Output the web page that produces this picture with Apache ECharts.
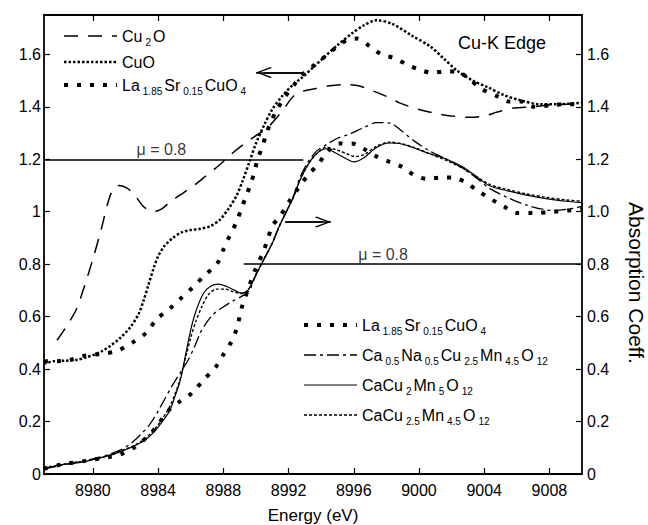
<!DOCTYPE html>
<html>
<head>
<meta charset="utf-8">
<script src="https://cdn.jsdelivr.net/npm/echarts@6/dist/echarts.min.js"></script>
<style>
  html, body { margin: 0; padding: 0; background: #fff; }
  #chart { width: 648px; height: 525px; }
</style>
</head>
<body>
<div id="chart"></div>
<script>
// tick values
const xTicks = [8980, 8984, 8988, 8992, 8996, 9000, 9004, 9008];
const yTicks = [0, 0.2, 0.4, 0.6, 0.8, 1, 1.2, 1.4, 1.6];

// upper curves (left axis) : [energy, mu]
const cu2o = [[8977.8, 0.51], [8978.4, 0.565], [8979.0, 0.63], [8979.5, 0.72], [8980.0, 0.82], [8980.5, 0.93], [8980.9, 1.03], [8981.2, 1.08], [8981.6, 1.10], [8982.1, 1.09], [8982.6, 1.06], [8983.1, 1.02], [8983.7, 1.00], [8984.2, 1.01], [8984.8, 1.04], [8985.5, 1.07], [8986.2, 1.10], [8987.0, 1.14], [8987.8, 1.18], [8988.5, 1.22], [8989.3, 1.26], [8990.0, 1.29], [8990.7, 1.32], [8991.3, 1.36], [8991.8, 1.40], [8992.3, 1.44], [8992.9, 1.46], [8993.7, 1.47], [8994.5, 1.48], [8995.5, 1.485], [8996.3, 1.48], [8997.2, 1.46], [8998.0, 1.44], [8998.8, 1.415], [9000.0, 1.39], [9001.0, 1.375], [9002.0, 1.365], [9003.1, 1.36], [9004.0, 1.365], [9004.8, 1.38], [9005.8, 1.395], [9007.0, 1.40], [9008.5, 1.41], [9010.0, 1.41]];
const cuo = [[8977.0, 0.42], [8977.6, 0.43], [8978.3, 0.432], [8979.0, 0.435], [8979.6, 0.445], [8980.1, 0.455], [8980.6, 0.47], [8981.1, 0.49], [8981.7, 0.52], [8982.3, 0.56], [8982.8, 0.61], [8983.1, 0.66], [8983.4, 0.72], [8983.7, 0.78], [8984.0, 0.83], [8984.4, 0.87], [8984.9, 0.90], [8985.4, 0.92], [8986.0, 0.93], [8986.6, 0.935], [8987.2, 0.945], [8987.8, 0.97], [8988.3, 1.01], [8988.8, 1.06], [8989.2, 1.12], [8989.6, 1.19], [8990.0, 1.26], [8990.5, 1.33], [8991.0, 1.39], [8991.6, 1.44], [8992.2, 1.48], [8992.8, 1.51], [8993.5, 1.55], [8994.2, 1.59], [8995.0, 1.635], [8995.9, 1.68], [8996.6, 1.71], [8997.4, 1.73], [8998.4, 1.715], [8999.6, 1.67], [9000.7, 1.63], [9001.5, 1.585], [9002.3, 1.54], [9003.3, 1.50], [9004.2, 1.475], [9005.2, 1.445], [9006.2, 1.425], [9007.4, 1.41], [9008.5, 1.41], [9010.0, 1.415]];
const lsco = [[8977.0, 0.43], [8977.8, 0.43], [8978.6, 0.435], [8979.4, 0.45], [8980.1, 0.455], [8980.8, 0.46], [8981.5, 0.47], [8982.4, 0.50], [8983.3, 0.54], [8983.9, 0.59], [8984.7, 0.63], [8985.4, 0.67], [8986.1, 0.71], [8986.9, 0.76], [8987.6, 0.80], [8988.0, 0.855], [8988.4, 0.91], [8988.8, 0.96], [8989.1, 1.01], [8989.4, 1.06], [8989.7, 1.11], [8989.9, 1.15], [8990.1, 1.20], [8990.4, 1.25], [8990.6, 1.29], [8990.9, 1.34], [8991.3, 1.39], [8991.8, 1.44], [8992.3, 1.48], [8992.8, 1.52], [8993.5, 1.555], [8994.2, 1.59], [8994.9, 1.625], [8995.6, 1.655], [8996.2, 1.66], [8997.0, 1.63], [8997.7, 1.60], [8998.5, 1.585], [8999.3, 1.56], [9000.1, 1.54], [9000.8, 1.53], [9001.6, 1.535], [9002.3, 1.535], [9003.0, 1.51], [9003.8, 1.47], [9004.8, 1.44], [9005.5, 1.42], [9006.3, 1.42], [9007.0, 1.40], [9008.0, 1.405], [9009.0, 1.41], [9010.0, 1.41]];

// lower curves (right axis)
const lscoB = [[8977.0, 0.02], [8978.0, 0.035], [8979.5, 0.05], [8981.0, 0.065], [8981.7, 0.075], [8982.5, 0.10], [8983.3, 0.14], [8983.9, 0.18], [8984.6, 0.24], [8985.3, 0.275], [8986.1, 0.31], [8986.8, 0.36], [8987.5, 0.405], [8988.0, 0.455], [8988.5, 0.505], [8988.8, 0.55], [8989.0, 0.60], [8989.2, 0.65], [8989.5, 0.70], [8989.9, 0.77], [8990.4, 0.84], [8990.7, 0.89], [8991.0, 0.945], [8991.5, 0.985], [8992.0, 1.035], [8992.6, 1.09], [8993.2, 1.14], [8993.8, 1.18], [8994.4, 1.23], [8995.1, 1.26], [8995.9, 1.26], [8996.6, 1.24], [8997.4, 1.21], [8998.2, 1.19], [8999.0, 1.17], [8999.7, 1.14], [9000.5, 1.125], [9001.3, 1.13], [9002.1, 1.13], [9002.9, 1.11], [9003.6, 1.08], [9004.5, 1.045], [9005.2, 1.02], [9006.0, 0.995], [9007.0, 0.995], [9008.3, 1.00], [9010.0, 1.01]];
const caNa = [[8977.0, 0.02], [8978.0, 0.032], [8979.0, 0.045], [8980.0, 0.058], [8981.0, 0.075], [8981.8, 0.095], [8982.4, 0.12], [8983.0, 0.155], [8983.5, 0.19], [8984.0, 0.24], [8984.4, 0.285], [8984.8, 0.33], [8985.3, 0.38], [8985.8, 0.43], [8986.2, 0.48], [8986.6, 0.54], [8987.0, 0.58], [8987.4, 0.61], [8988.0, 0.637], [8988.6, 0.66], [8989.2, 0.68], [8989.6, 0.70], [8990.0, 0.76], [8990.5, 0.82], [8991.0, 0.88], [8991.4, 0.94], [8991.9, 1.005], [8992.3, 1.06], [8992.7, 1.13], [8993.2, 1.19], [8993.7, 1.23], [8994.3, 1.255], [8995.0, 1.28], [8995.7, 1.295], [8996.6, 1.32], [8997.4, 1.34], [8998.2, 1.338], [8998.9, 1.31], [8999.7, 1.27], [9000.7, 1.23], [9001.7, 1.20], [9002.7, 1.165], [9003.5, 1.13], [9004.3, 1.09], [9005.4, 1.055], [9006.6, 1.025], [9008.2, 1.005], [9009.2, 1.01], [9010.0, 1.02]];
const mn5 = [[8977.0, 0.02], [8978.0, 0.035], [8979.0, 0.042], [8980.0, 0.055], [8981.1, 0.072], [8981.8, 0.088], [8982.3, 0.10], [8982.8, 0.115], [8983.2, 0.13], [8983.7, 0.157], [8984.2, 0.195], [8984.7, 0.24], [8985.0, 0.29], [8985.3, 0.345], [8985.5, 0.395], [8985.7, 0.46], [8985.9, 0.52], [8986.1, 0.575], [8986.4, 0.635], [8986.8, 0.69], [8987.2, 0.715], [8987.7, 0.724], [8988.2, 0.715], [8988.7, 0.70], [8989.1, 0.69], [8989.5, 0.70], [8990.0, 0.76], [8990.5, 0.82], [8991.0, 0.88], [8991.4, 0.94], [8991.9, 1.005], [8992.3, 1.055], [8992.7, 1.12], [8993.2, 1.18], [8993.7, 1.22], [8994.3, 1.24], [8995.0, 1.22], [8995.6, 1.20], [8996.0, 1.19], [8996.6, 1.205], [8997.4, 1.245], [8998.2, 1.262], [8998.8, 1.26], [8999.6, 1.245], [9000.7, 1.22], [9001.7, 1.20], [9002.7, 1.17], [9003.5, 1.135], [9004.3, 1.10], [9005.4, 1.08], [9006.6, 1.063], [9007.8, 1.05], [9009.0, 1.04], [9010.0, 1.035]];
const mn45 = [[8977.0, 0.025], [8978.0, 0.035], [8979.0, 0.045], [8980.0, 0.055], [8981.1, 0.073], [8981.8, 0.09], [8982.3, 0.102], [8982.8, 0.118], [8983.2, 0.135], [8983.7, 0.165], [8984.2, 0.205], [8984.7, 0.255], [8985.0, 0.30], [8985.3, 0.35], [8985.5, 0.40], [8985.75, 0.46], [8986.0, 0.52], [8986.3, 0.58], [8986.7, 0.64], [8987.1, 0.685], [8987.6, 0.705], [8988.1, 0.705], [8988.6, 0.695], [8989.1, 0.688], [8989.5, 0.70], [8990.0, 0.76], [8990.5, 0.82], [8991.0, 0.88], [8991.4, 0.94], [8991.9, 1.005], [8992.3, 1.055], [8992.7, 1.12], [8993.2, 1.18], [8993.7, 1.22], [8994.3, 1.245], [8995.0, 1.235], [8995.6, 1.22], [8996.1, 1.21], [8996.7, 1.22], [8997.4, 1.25], [8998.2, 1.265], [8998.9, 1.26], [8999.7, 1.245], [9000.7, 1.22], [9001.7, 1.195], [9002.7, 1.165], [9003.5, 1.135], [9004.3, 1.105], [9005.4, 1.085], [9006.6, 1.068], [9007.8, 1.055], [9009.0, 1.045], [9010.0, 1.04]];

// reference lines (mu = 0.8 on each curve set), arrows and their labels
const muLines = [{ y: 1.2, from: 8977, to: 8992.9 }, { y: 0.8, from: 8989.25, to: 9010 }];
const muLabels = [[8984.2, 1.2], [8997.8, 0.8]];
const arrows = [{ y: 1.531, tail: 8992.9, tip: 8990.0 }, { y: 0.961, tail: 8991.8, tip: 8994.6 }];

const FONT = '"Liberation Sans", Arial, sans-serif';

const legendText = {
  Cu2O: '{n|Cu}{s|2}{n|O}',
  CuO: '{n|CuO}',
  LSCO: '{n|La}{s|1.85}{n|Sr}{s|0.15}{n|CuO}{s|4}',
  LSCO_b: '{n|La}{s|1.85}{n|Sr}{s|0.15}{n|CuO}{s|4}',
  CaNa: '{n|Ca}{s|0.5}{n|Na}{s|0.5}{n|Cu}{s|2.5}{n|Mn}{s|4.5}{n|O}{s|12}',
  Mn5: '{n|CaCu}{s|2}{n|Mn}{s|5}{n|O}{s|12}',
  Mn45: '{n|CaCu}{s|2.5}{n|Mn}{s|4.5}{n|O}{s|12}'
};

const rich = {
  n: { fontFamily: FONT, fontSize: 16, lineHeight: 22, verticalAlign: 'middle', color: '#000' },
  s: { fontFamily: FONT, fontSize: 10, lineHeight: 10, verticalAlign: 'bottom', color: '#000', padding: [0, 2, 0, 3] }
};

function curve(name, data, yAxisIndex, lineStyle) {
  return {
    name: name, type: 'line', data: data, yAxisIndex: yAxisIndex,
    symbol: 'none', smooth: 0.3, silent: true,
    itemStyle: { color: '#000' },
    lineStyle: Object.assign({ color: '#000' }, lineStyle)
  };
}

const chevron = 'path://M50,0 L100,70 L91,77 L50,17 L9,77 L0,70 Z';
const HEAD = 0.49; // half arrow-head length in eV

const markLines = [];
muLines.forEach(function (m) {
  markLines.push([{ coord: [m.from, m.y] }, { coord: [m.to, m.y] }]);
});
arrows.forEach(function (a) {
  const dir = a.tip > a.tail ? 1 : -1;
  markLines.push([{ coord: [a.tail, a.y] }, { coord: [a.tip, a.y] }]);
  markLines.push([
    { coord: [a.tail, a.y], symbol: 'none' },
    { coord: [a.tip - dir * HEAD, a.y], symbol: chevron, symbolSize: [11, 16] }
  ]);
});

const chartDom = document.getElementById('chart');
const myChart = echarts.init(chartDom, null, { renderer: 'svg' });

const axisLineStyle = { color: '#000', width: 1.8 };
const tickStyle = { color: '#000', width: 1.2 };

const legendBase = {
  orient: 'vertical', itemWidth: 53, itemHeight: 14,
  selectedMode: false,
  formatter: function (n) { return legendText[n]; },
  textStyle: { rich: rich, fontSize: 16 },
  lineStyle: { width: 'inherit' },
  itemStyle: { opacity: 0 }
};

const option = {
  animation: false,
  backgroundColor: '#fff',
  textStyle: { fontFamily: FONT, color: '#000' },
  grid: { left: 44, right: 66, top: 15, bottom: 51, containLabel: false, outerBoundsMode: 'none' },
  xAxis: [
    {
      type: 'value', min: 8977, max: 9010, position: 'bottom',
      name: 'Energy (eV)', nameLocation: 'middle', nameGap: 33,
      nameTextStyle: { fontSize: 17, color: '#000', fontFamily: FONT },
      axisLine: { onZero: false, lineStyle: axisLineStyle },
      axisTick: { inside: true, length: 6, customValues: xTicks, lineStyle: tickStyle },
      axisLabel: { customValues: xTicks, fontSize: 16, color: '#000', margin: 8, fontFamily: FONT, formatter: function (v) { return String(v); } },
      splitLine: { show: false }
    },
    {
      type: 'value', min: 8977, max: 9010, position: 'top',
      axisLine: { onZero: false, lineStyle: axisLineStyle },
      axisTick: { inside: true, length: 6, customValues: xTicks, lineStyle: tickStyle },
      axisLabel: { show: false },
      splitLine: { show: false }
    }
  ],
  yAxis: [
    {
      type: 'value', min: 0, max: 1.75, position: 'left',
      axisLine: { show: true, onZero: false, lineStyle: axisLineStyle },
      axisTick: { show: true, inside: true, length: 6, customValues: yTicks, lineStyle: tickStyle },
      axisLabel: { customValues: yTicks, fontSize: 16, color: '#000', margin: 3, fontFamily: FONT, formatter: function (v) { return String(v); } },
      splitLine: { show: false }
    },
    {
      type: 'value', min: 0, max: 1.75, position: 'right',
      axisLine: { show: true, onZero: false, lineStyle: axisLineStyle },
      axisTick: { show: true, inside: true, length: 6, customValues: yTicks, lineStyle: tickStyle },
      axisLabel: { customValues: yTicks, fontSize: 16, color: '#000', margin: 5, fontFamily: FONT, formatter: function (v) { return v === 0 ? '0' : v.toFixed(1); } },
      splitLine: { show: false }
    }
  ],
  legend: [
    Object.assign({}, legendBase, { left: 57, top: 23, itemGap: 7, data: ['Cu2O', 'CuO', 'LSCO'] }),
    Object.assign({}, legendBase, { left: 297, top: 312, itemGap: 11, data: ['LSCO_b', 'CaNa', 'Mn5', 'Mn45'] })
  ],
  graphic: [
    { type: 'text', left: 458, top: 34, silent: true, style: { text: 'Cu-K Edge', font: '18px ' + FONT, fill: '#000' } },
    { type: 'text', x: 636, y: 283, rotation: -Math.PI / 2, silent: true, style: { text: 'Absorption Coeff.', font: '21px ' + FONT, fill: '#000', align: 'center', verticalAlign: 'middle' } }
  ],
  series: [
    Object.assign(curve('Cu2O', cu2o, 0, { width: 1.5, type: [14, 10] }), {
      markLine: {
        silent: true, animation: false, symbol: ['none', 'none'],
        label: { show: false },
        lineStyle: { color: '#000', width: 1.5, type: 'solid' },
        emphasis: { disabled: true },
        data: markLines
      }
    }),
    curve('CuO', cuo, 0, { width: 2.5, type: [2.5, 2] }),
    curve('LSCO', lsco, 0, { width: 4, type: [4, 9] }),
    curve('LSCO_b', lscoB, 1, { width: 4, type: [4, 9] }),
    curve('CaNa', caNa, 1, { width: 1.3, type: [12, 4, 3, 4] }),
    curve('Mn5', mn5, 1, { width: 1.2, type: 'solid' }),
    curve('Mn45', mn45, 1, { width: 1.4, type: [3, 2] }),
    {
      name: 'mu', type: 'scatter', data: muLabels, symbolSize: 1, silent: true,
      itemStyle: { color: 'rgba(0,0,0,0)' },
      label: { show: true, position: 'top', distance: 1, formatter: 'μ = 0.8', fontSize: 16, color: '#000', fontFamily: FONT }
    }
  ]
};

option && myChart.setOption(option);
</script>
</body>
</html>
